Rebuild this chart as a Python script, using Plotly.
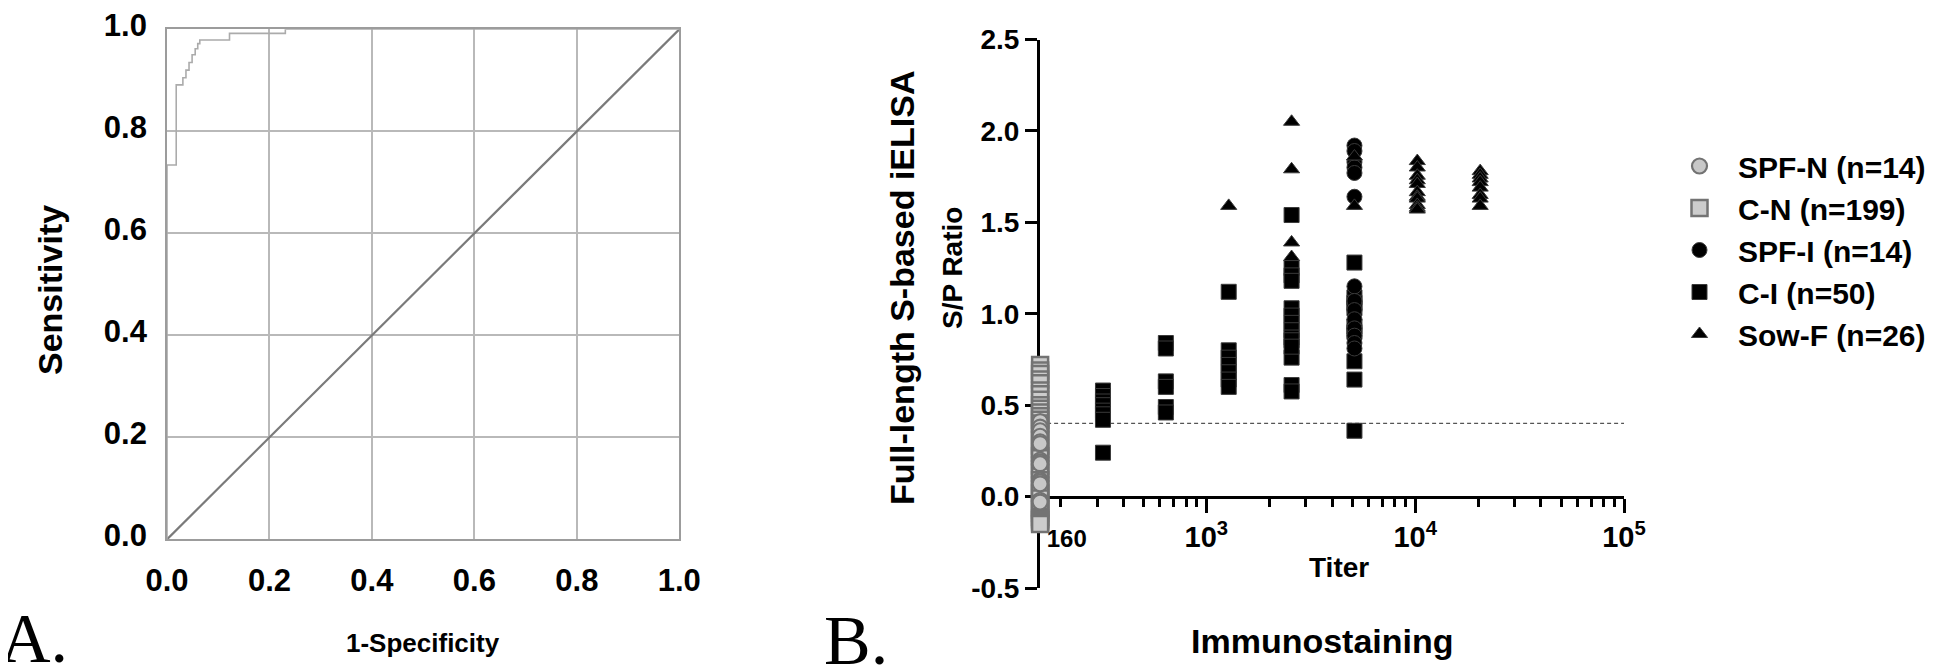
import math
import plotly.graph_objects as go

# ---------------- Panel A: ROC curve ----------------
roc_fpr = [0, 0, 0.018, 0.031, 0.037, 0.043, 0.049, 0.055, 0.060, 0.064, 0.122, 0.231, 1.0]
roc_tpr = [0, 0.734, 0.891, 0.905, 0.920, 0.935, 0.950, 0.962, 0.972, 0.979, 0.992, 1.0, 1.0]
ref_x = [0, 1]
ref_y = [0, 1]
roc_ticks = [0.0, 0.2, 0.4, 0.6, 0.8, 1.0]

# ---------------- Panel B: S/P ratio vs titer ----------------
spfn_titer = [160] * 14
spfn_sp = [0.41, 0.38, 0.36, 0.33, 0.30, 0.29, 0.20, 0.19, 0.18, 0.09, 0.08, 0.07, -0.02, -0.03]

cn_titer = [160] * 42
cn_sp = [0.72, 0.69, 0.67, 0.64, 0.62, 0.58, 0.56, 0.53, 0.50, 0.48, 0.46, 0.44,
         0.42, 0.40, 0.38, 0.36, 0.34, 0.31, 0.28, 0.26, 0.24, 0.22, 0.21, 0.17,
         0.15, 0.13, 0.11, 0.09, 0.06, 0.04, 0.02, 0.01, -0.01, -0.04, -0.06, -0.07,
         -0.09, -0.11, -0.12, -0.13, -0.14, -0.15]

spfi_titer = [5120] * 14
spfi_sp = [1.92, 1.89, 1.83, 1.80, 1.77, 1.64, 1.15, 1.07, 1.02, 0.97, 0.92, 0.88, 0.84, 0.81]

ci_titer = ([320] * 8 + [640] * 6 + [1280] * 7 + [2560] * 14 + [5120] * 9)
ci_sp = ([0.58, 0.55, 0.52, 0.50, 0.47, 0.45, 0.42, 0.24] +
         [0.84, 0.81, 0.63, 0.60, 0.49, 0.46] +
         [1.12, 0.80, 0.76, 0.72, 0.68, 0.64, 0.60] +
         [1.54, 1.25, 1.21, 1.03, 0.99, 0.95, 0.91, 0.87, 0.855, 0.76, 0.61, 0.575, 1.18, 0.82] +
         [1.28, 1.09, 1.06, 1.03, 0.93, 0.90, 0.74, 0.64, 0.36])

sow_titer = ([1280] * 1 + [2560] * 4 + [5120] * 2 + [10240] * 11 + [20480] * 8)
sow_sp = ([1.59] +
          [2.05, 1.79, 1.39, 1.31] +
          [1.86, 1.59] +
          [1.835, 1.80, 1.755, 1.73, 1.71, 1.665, 1.64, 1.63, 1.595, 1.58, 1.57] +
          [1.78, 1.76, 1.74, 1.72, 1.69, 1.65, 1.63, 1.59])

cutoff = 0.4
cutoff_x = [160, 100000]

x_tickvals = [160, 1000, 10000, 100000]
x_ticktext = ["<span style='font-size:24px'>" + "\u00a0" * 8 + "160</span>",
              "10<sup>3</sup>", "10<sup>4</sup>", "10<sup>5</sup>"]
x_minor = [m * 10 ** d for d in (2, 3, 4) for m in range(2, 10)]
y_tickvals = [-0.5, 0.0, 0.5, 1.0, 1.5, 2.0, 2.5]
y_ticktext = ["-0.5", "0.0", "0.5", "1.0", "1.5", "2.0", "2.5"]

# The page body keeps its default 8px margin, so the figure is 8px smaller
# and all reference screen positions are converted with that offset.
OFF = 8
W, H = 1946 - OFF, 671 - OFF
FONT = "Liberation Sans"


def px_x(p):
    return (p - OFF) / W


def px_y(p):
    return 1 - (p - OFF) / H


fig = go.Figure()

# Panel A traces
fig.add_trace(go.Scatter(x=ref_x, y=ref_y, mode="lines", xaxis="x", yaxis="y",
                         line=dict(color="#7a7a7a", width=2.2), showlegend=False,
                         hoverinfo="skip"))
fig.add_trace(go.Scatter(x=roc_fpr, y=roc_tpr, mode="lines", xaxis="x", yaxis="y",
                         line=dict(color="#ababab", width=1.6, shape="hv"),
                         showlegend=False, cliponaxis=False))

# Panel B traces
fig.add_trace(go.Scatter(x=cutoff_x, y=[cutoff, cutoff], mode="lines", xaxis="x2", yaxis="y2",
                         line=dict(color="#555555", width=1.3, dash="4px,3px"),
                         showlegend=False, hoverinfo="skip", cliponaxis=False))

fig.add_trace(go.Scatter(x=cn_titer, y=cn_sp, mode="markers", xaxis="x2", yaxis="y2",
                         name="C-N (n=199)", legendrank=2,
                         marker=dict(symbol="square", size=16, color="#cccccc",
                                     line=dict(color="#737373", width=2.5)),
                         cliponaxis=False))
fig.add_trace(go.Scatter(x=spfn_titer, y=spfn_sp, mode="markers", xaxis="x2", yaxis="y2",
                         name="SPF-N (n=14)", legendrank=1,
                         marker=dict(symbol="circle", size=15, color="#c8c8c8",
                                     line=dict(color="#737373", width=2.2)),
                         cliponaxis=False))
fig.add_trace(go.Scatter(x=ci_titer, y=ci_sp, mode="markers", xaxis="x2", yaxis="y2",
                         name="C-I (n=50)", legendrank=4,
                         marker=dict(symbol="square", size=15, color="#000000",
                                     line=dict(color="#3a3a3a", width=1)),
                         cliponaxis=False))
fig.add_trace(go.Scatter(x=spfi_titer, y=spfi_sp, mode="markers", xaxis="x2", yaxis="y2",
                         name="SPF-I (n=14)", legendrank=3,
                         marker=dict(symbol="circle", size=15, color="#000000",
                                     line=dict(color="#3a3a3a", width=1)),
                         cliponaxis=False))
fig.add_trace(go.Scatter(x=sow_titer, y=sow_sp, mode="markers", xaxis="x2", yaxis="y2",
                         name="Sow-F (n=26)", legendrank=5,
                         marker=dict(symbol="triangle-up", size=14, color="#000000",
                                     line=dict(color="#3a3a3a", width=1)),
                         cliponaxis=False))

tickA = dict(family=FONT, size=31, color="black", weight="bold")
fig.update_layout(
    width=W, height=H,
    margin=dict(l=0, r=0, t=0, b=0, autoexpand=False),
    paper_bgcolor="white", plot_bgcolor="white",
    font=dict(family=FONT, color="black"),
    xaxis=dict(domain=[px_x(167), px_x(679.3)], range=[0, 1], anchor="y",
               tickvals=roc_ticks, tickformat=".1f", tickfont=tickA,
               showgrid=True, gridcolor="#b9b9b9", gridwidth=1.5,
               showline=True, linecolor="#9c9c9c", linewidth=1.8, mirror=True,
               zeroline=False, ticks="", ticklabelstandoff=12, automargin=False),
    yaxis=dict(domain=[px_y(539.4), px_y(29.3)], range=[0, 1], anchor="x",
               tickvals=roc_ticks, tickformat=".1f", tickfont=tickA,
               showgrid=True, gridcolor="#b9b9b9", gridwidth=1.5,
               showline=True, linecolor="#9c9c9c", linewidth=1.8, mirror=True,
               zeroline=False, ticks="", ticklabelstandoff=12, ticklabelshift=-4,
               automargin=False),
    xaxis2=dict(type="log", domain=[px_x(1040), px_x(1624)],
                range=[math.log10(159.8), 5], anchor="free",
                position=px_y(496.6), layer="below traces",
                tickvals=x_tickvals, ticktext=x_ticktext,
                tickfont=dict(family=FONT, size=29, color="black", weight="bold"),
                showline=True, linecolor="black", linewidth=3,
                ticks="outside", ticklen=14, tickwidth=3, tickcolor="black",
                minor=dict(tickvals=x_minor, ticks="outside", ticklen=8,
                           tickwidth=3, tickcolor="black", showgrid=False),
                showgrid=False, zeroline=False, automargin=False),
    yaxis2=dict(domain=[px_y(588), px_y(39.5)], range=[-0.5, 2.5], anchor="x2",
                layer="below traces",
                tickvals=y_tickvals, ticktext=y_ticktext,
                tickfont=dict(family=FONT, size=28, color="black", weight="bold"),
                showline=True, linecolor="black", linewidth=3,
                ticks="outside", ticklen=12, tickwidth=3, tickcolor="black",
                showgrid=False, zeroline=False, automargin=False),
    legend=dict(x=px_x(1661), y=px_y(140), xanchor="left", yanchor="top",
                font=dict(family=FONT, size=30, color="black", weight="bold"),
                bgcolor="rgba(0,0,0,0)", itemwidth=67,
                traceorder="normal", itemclick=False),
    showlegend=True,
)

ann = []


def add_text(text, xp, yp, size, angle=0, family=FONT, bold=True):
    ann.append(dict(text=text, x=px_x(xp), y=px_y(yp), xref="paper", yref="paper",
                    showarrow=False, textangle=angle, xanchor="center", yanchor="middle",
                    font=dict(family=family, size=size, color="black",
                              weight="bold" if bold else "normal")))


add_text("Sensitivity", 50, 290, 34, angle=-90)
add_text("1-Specificity", 423, 643, 26)
add_text("A.", 34, 638, 70, family="Liberation Serif", bold=False)
add_text("B.", 856, 640, 70, family="Liberation Serif", bold=False)
add_text("Full-length S-based iELISA", 902, 288, 34, angle=-90)
add_text("S/P Ratio", 953, 268, 28, angle=-90)
add_text("Titer", 1339, 567, 28)
add_text("Immunostaining", 1322, 641, 34)
fig.update_layout(annotations=ann)

fig.write_html("out.html")
